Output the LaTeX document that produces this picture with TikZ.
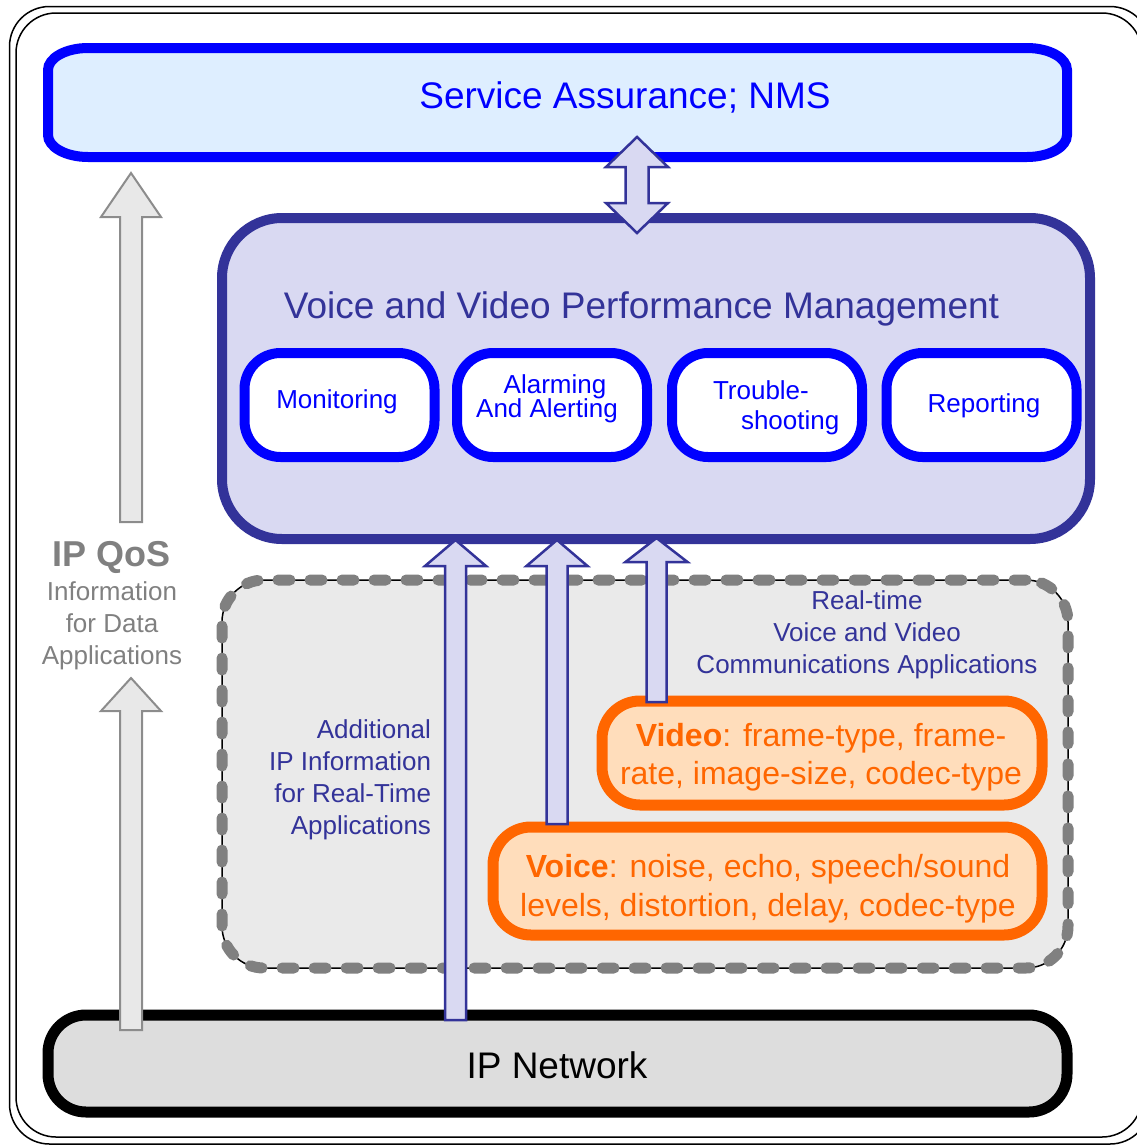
\documentclass[tikz,border=0pt]{standalone}
\usepackage{fontspec}
\setmainfont{Liberation Sans}
\usetikzlibrary{calc}

\definecolor{saFill}{RGB}{222,238,255}
\definecolor{pureBlue}{RGB}{0,0,255}
\definecolor{navy}{RGB}{51,51,153}
\definecolor{lav}{RGB}{217,217,242}
\definecolor{regionFill}{RGB}{234,234,234}
\definecolor{dashGray}{RGB}{128,128,128}
\definecolor{orangeLine}{RGB}{255,102,0}
\definecolor{peach}{RGB}{255,221,187}
\definecolor{netFill}{RGB}{221,221,221}
\definecolor{qosGray}{RGB}{128,128,128}
\definecolor{arrowGray}{RGB}{140,140,140}
\definecolor{arrowFill}{RGB}{232,232,232}

\newcommand\fs[2]{\fontsize{#1}{#2}\selectfont}

\begin{document}
\begin{tikzpicture}[x=1pt,y=-1pt,
  frame/.style={draw=black, line width=1.5pt, rounded corners=40pt},
  box/.style={rectangle, inner sep=0pt, outer sep=0pt},
  mgmtbox/.style={box, draw=navy, line width=10pt, fill=lav, rounded corners=60pt},
  funcbox/.style={box, draw=pureBlue, line width=10pt, fill=white, rounded corners=36pt,
    minimum width=190pt, minimum height=104pt},
  region/.style={box, draw=black, line width=1.5pt, fill=regionFill, rounded corners=42pt,
    postaction={draw=dashGray, line width=11pt, line cap=round, dash pattern=on 12pt off 20pt}},
  metricbox/.style={box, draw=orangeLine, line width=11pt, fill=peach, rounded corners=38pt},
  netbox/.style={box, draw=black, line width=11pt, fill=netFill, rounded corners=38pt},
  txt/.style={inner sep=0pt, outer sep=0pt, anchor=base},
  bluearrow/.style={draw=navy, line width=2.5pt, fill=lav},
  grayarrow/.style={draw=arrowGray, line width=2pt, fill=arrowFill},
  blockup/.style args={#1/#2/#3}{to path={let \p1=(\tikztostart), \p2=(\tikztotarget) in
    (\x1-#1pt,\y1) -- (\x1-#1pt,\y2-#3pt) -- (\x1-#2pt,\y2-#3pt) -- (\x1,\y2)
    -- (\x1+#2pt,\y2-#3pt) -- (\x1+#1pt,\y2-#3pt) -- (\x1+#1pt,\y1) -- cycle}},
  blockboth/.style args={#1/#2/#3}{to path={let \p1=(\tikztostart), \p2=(\tikztotarget) in
    (\x1,\y1) -- (\x1+#2pt,\y1-#3pt) -- (\x1+#1pt,\y1-#3pt) -- (\x1+#1pt,\y2+#3pt)
    -- (\x1+#2pt,\y2+#3pt) -- (\x1,\y2) -- (\x1-#2pt,\y2+#3pt) -- (\x1-#1pt,\y2+#3pt)
    -- (\x1-#1pt,\y1-#3pt) -- (\x1-#2pt,\y1-#3pt) -- cycle}}
]
\useasboundingbox (0,0) rectangle (1136,1146);

% double outline of the whole sheet
\draw[frame] (9.5,6.5) rectangle (1150,1144);
\draw[frame] (16,13) rectangle (1142,1137);

% service assurance bar with elliptical corners
\node[box, minimum width=1019pt, minimum height=109pt] (sa) at (557.5,102.5) {};
\draw[draw=pureBlue, fill=saFill, line width=10pt]
  let \p1=(sa.north west), \p2=(sa.south east) in
  (\x1+40pt,\y1) -- (\x2-40pt,\y1)
  .. controls (\x2-17.9pt,\y1) and (\x2,\y1-9.9pt) .. (\x2,\y1-22pt)
  -- (\x2,\y2+22pt)
  .. controls (\x2,\y2+9.9pt) and (\x2-17.9pt,\y2) .. (\x2-40pt,\y2)
  -- (\x1+40pt,\y2)
  .. controls (\x1+17.9pt,\y2) and (\x1,\y2+9.9pt) .. (\x1,\y2+22pt)
  -- (\x1,\y1-22pt)
  .. controls (\x1,\y1-9.9pt) and (\x1+17.9pt,\y1) .. (\x1+40pt,\y1) -- cycle;
\node[txt, text=pureBlue, font=\fs{37}{44}] (satext) at (625,108) {Service Assurance; NMS};

% performance management block
\node[mgmtbox, minimum width=868pt, minimum height=321pt] (vvpm) at (656,378.5) {};
\node[txt, text=navy, font=\fs{37}{44}] (vvtitle) at (641.5,318)
  {Voice and Video Performance Management};

\node[funcbox] (mon) at (339.5,405) {};
\node[funcbox] (alarm) at (552,405) {};
\node[funcbox] (trouble) at (767,405) {};
\node[funcbox] (report) at (981.5,405) {};

\node[txt, text=pureBlue, font=\fs{26}{31}] (montext) at (337,408) {Monitoring};
\node[txt, text=pureBlue, font=\fs{26}{25}] (alarmtext) at (551,393)
  {\begin{tabular}[t]{@{}c@{}}\hspace*{8pt}Alarming\\[-2pt]And Alerting\hspace*{8pt}\end{tabular}};
\node[txt, anchor=base west, text=pureBlue, font=\fs{26}{30}] (troubletext) at (713,399)
  {\begin{tabular}[t]{@{}l@{}}Trouble-\\\hspace*{28pt}shooting\end{tabular}};
\node[txt, text=pureBlue, font=\fs{26}{31}] (reporttext) at (984,412) {Reporting};

% real-time applications area
\node[region, minimum width=846pt, minimum height=388pt] (rt) at (645,774) {};
\node[txt, text=navy, font=\fs{26}{32}] (rttext) at (867,609)
  {\begin{tabular}[t]{@{}c@{}}Real-time\\Voice and Video\\Communications Applications\end{tabular}};
\node[txt, anchor=base east, text=navy, font=\fs{26}{32}] (addtext) at (431,738)
  {\begin{tabular}[t]{@{}r@{}}Additional\\IP Information\\for Real-Time\\Applications\end{tabular}};

\node[metricbox, minimum width=440pt, minimum height=104pt] (video) at (822,753) {};
\node[txt, text=orangeLine, font=\fs{32}{38}] (videotext) at (821,746)
  {\begin{tabular}[t]{@{}c@{}}\textbf{Video}: frame-type, frame-\\rate, image-size, codec-type\end{tabular}};
\node[metricbox, minimum width=549pt, minimum height=108pt] (voice) at (767.5,881) {};
\node[txt, text=orangeLine, font=\fs{32}{39}] (voicetext) at (768,877)
  {\begin{tabular}[t]{@{}c@{}}\textbf{Voice}: noise, echo, speech/sound\\levels, distortion, delay, codec-type\end{tabular}};

% network layer
\node[netbox, minimum width=1019pt, minimum height=97pt] (ipnet) at (557.5,1063.5) {};
\node[txt, text=black, font=\fs{37}{44}] (iptext) at (557,1078) {IP Network};

% data QoS column
\node[txt, text=qosGray, font=\bfseries\fs{36}{43}] (qos) at (111.5,566) {IP QoS};
\node[txt, text=qosGray, font=\fs{26}{32}] (qosinfo) at (112,600)
  {\begin{tabular}[t]{@{}c@{}}Information\\for Data\\Applications\end{tabular}};

\coordinate (gcol) at (131,0);
\coordinate (qosTail) at (131,522);
\coordinate (qosTip) at (131,678);
\path[grayarrow, blockup=11/30/44] (qosTail) to ($(gcol |- sa.south)+(0,16)$);
\path[grayarrow, blockup=11/30/33] ($(gcol |- ipnet.north)+(0,15)$) to (qosTip);

% information flows into performance management
\coordinate (col1) at (455.5,0);
\coordinate (col2) at (557,0);
\coordinate (col3) at (656.5,0);
\coordinate (dcol) at (637,0);
\path[bluearrow, blockup=10.5/30.5/26] ($(col1 |- ipnet.north)+(0,5)$) to ($(col1 |- vvpm.south)+(0,1)$);
\path[bluearrow, blockup=10.5/30.5/26] ($(col2 |- voice.north)+(0,-3)$) to ($(col2 |- vvpm.south)+(0,1)$);
\path[bluearrow, blockup=10/31/24] ($(col3 |- video.north)+(0,1)$) to ($(col3 |- vvpm.south)+(0,-1)$);
\path[bluearrow, blockboth=11.5/31/30] ($(dcol |- sa.south)+(0,-20)$) to ($(dcol |- vvpm.north)+(0,15)$);
\end{tikzpicture}
\end{document}
